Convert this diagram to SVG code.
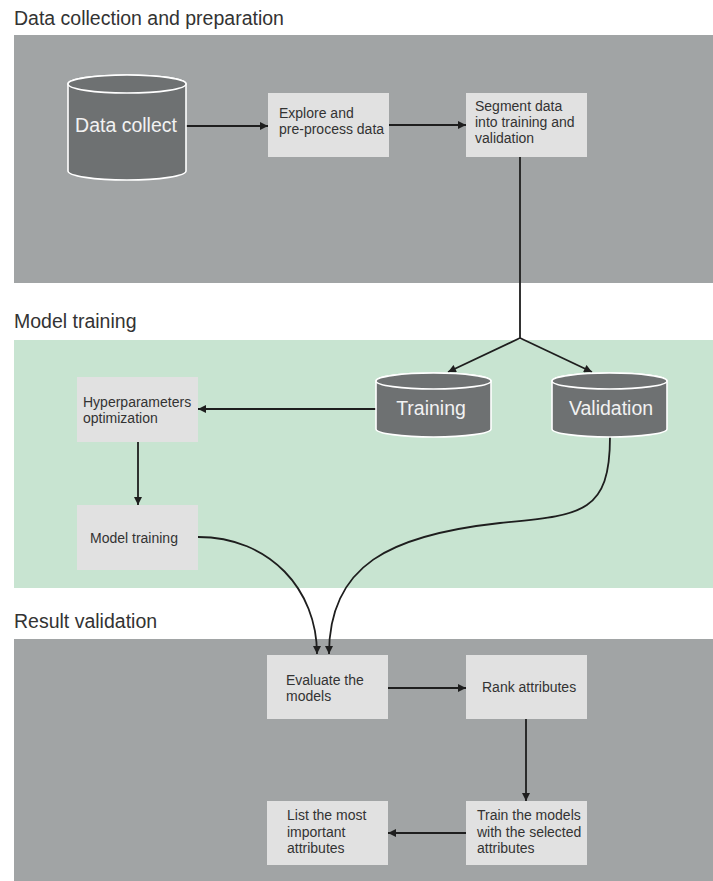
<svg xmlns="http://www.w3.org/2000/svg" width="713" height="881" viewBox="0 0 713 881">
  <defs>
    <style>
      .title { font-family: "Liberation Sans", Arial, sans-serif; font-size: 19.5px; fill: #333; }
      .panel-gray { fill: #a1a4a5; }
      .panel-green { fill: #c8e4d1; }
      .box { fill: #e1e1e1; }
      .btext { font-family: "Liberation Sans", Arial, sans-serif; font-size: 14px; fill: #333; }
      .cyl { fill: #6e7172; stroke: #ffffff; stroke-width: 1.6; }
      .ctext { font-family: "Liberation Sans", Arial, sans-serif; font-size: 19.5px; fill: #f2f2f2; text-anchor: middle; }
      .edge { fill: none; stroke: #1e1e1e; stroke-width: 1.8; }
    </style>
    <marker id="arrow" viewBox="0 0 10 10" refX="10" refY="5" markerWidth="9" markerHeight="8" markerUnits="userSpaceOnUse" orient="auto">
      <path d="M0,0 L10,5 L0,10 z" fill="#1e1e1e"/>
    </marker>
  </defs>

  <rect width="713" height="881" fill="#ffffff"/>

  <!-- Section backgrounds and headings -->
  <g id="section-data">
    <text class="title" x="14" y="25">Data collection and preparation</text>
    <rect class="panel-gray" x="14" y="35" width="699" height="248"/>
  </g>
  <g id="section-training">
    <text class="title" x="14" y="328">Model training</text>
    <rect class="panel-green" x="14" y="340" width="699" height="248"/>
  </g>
  <g id="section-result">
    <text class="title" x="14" y="628">Result validation</text>
    <rect class="panel-gray" x="14" y="639" width="699" height="242"/>
  </g>

  <!-- Connectors -->
  <g id="connectors">
    <path class="edge" d="M186,126 H268" marker-end="url(#arrow)"/>
    <path class="edge" d="M389,125 H466" marker-end="url(#arrow)"/>
    <path class="edge" d="M520,157 V338 L448,372" marker-end="url(#arrow)"/>
    <path class="edge" d="M520,338 L592,372" marker-end="url(#arrow)"/>
    <path class="edge" d="M376,409 H198" marker-end="url(#arrow)"/>
    <path class="edge" d="M138,442 V505" marker-end="url(#arrow)"/>
    <path class="edge" d="M198,537 C270,537 317,590 317,654" marker-end="url(#arrow)"/>
    <path class="edge" d="M610,437 C610,515 580,515 500,523 C390,535 329,565 329,654" marker-end="url(#arrow)"/>
    <path class="edge" d="M388,688 H466" marker-end="url(#arrow)"/>
    <path class="edge" d="M526,719 V801" marker-end="url(#arrow)"/>
    <path class="edge" d="M466,833 H388" marker-end="url(#arrow)"/>
  </g>

  <!-- Data collection and preparation -->
  <g id="data-collect">
    <path class="cyl" d="M68,84 V171 A59,9 0 0 0 186,171 V84 A59,9 0 0 0 68,84 Z"/>
    <ellipse class="cyl" cx="127" cy="84" rx="59" ry="9"/>
    <text class="ctext" x="126" y="132">Data collect</text>
  </g>
  <g id="explore">
    <rect class="box" x="268" y="93" width="121" height="64"/>
    <text class="btext" x="279" y="118">Explore and</text>
    <text class="btext" x="279" y="134">pre-process data</text>
  </g>
  <g id="segment">
    <rect class="box" x="466" y="93" width="121" height="64"/>
    <text class="btext" x="475" y="111">Segment data</text>
    <text class="btext" x="475" y="127">into training and</text>
    <text class="btext" x="475" y="143">validation</text>
  </g>

  <!-- Model training -->
  <g id="training">
    <path class="cyl" d="M376,381 V429 A57.5,8 0 0 0 491,429 V381 A57.5,8 0 0 0 376,381 Z"/>
    <ellipse class="cyl" cx="433.5" cy="381" rx="57.5" ry="8"/>
    <text class="ctext" x="431" y="415">Training</text>
  </g>
  <g id="validation">
    <path class="cyl" d="M552,381 V429 A57.5,8 0 0 0 667,429 V381 A57.5,8 0 0 0 552,381 Z"/>
    <ellipse class="cyl" cx="609.5" cy="381" rx="57.5" ry="8"/>
    <text class="ctext" x="611" y="415">Validation</text>
  </g>
  <g id="hyperparameters">
    <rect class="box" x="77" y="377" width="121" height="65"/>
    <text class="btext" x="83" y="407">Hyperparameters</text>
    <text class="btext" x="83" y="423">optimization</text>
  </g>
  <g id="model-training">
    <rect class="box" x="77" y="505" width="121" height="65"/>
    <text class="btext" x="90" y="543">Model training</text>
  </g>

  <!-- Result validation -->
  <g id="evaluate">
    <rect class="box" x="267" y="655" width="121" height="64"/>
    <text class="btext" x="286" y="685">Evaluate the</text>
    <text class="btext" x="286" y="701">models</text>
  </g>
  <g id="rank">
    <rect class="box" x="466" y="655" width="121" height="64"/>
    <text class="btext" x="482" y="692">Rank attributes</text>
  </g>
  <g id="train-selected">
    <rect class="box" x="466" y="801" width="121" height="64"/>
    <text class="btext" x="477" y="820">Train the models</text>
    <text class="btext" x="477" y="837">with the selected</text>
    <text class="btext" x="477" y="853">attributes</text>
  </g>
  <g id="list-important">
    <rect class="box" x="267" y="801" width="121" height="64"/>
    <text class="btext" x="287" y="820">List the most</text>
    <text class="btext" x="287" y="837">important</text>
    <text class="btext" x="287" y="853">attributes</text>
  </g>
</svg>
